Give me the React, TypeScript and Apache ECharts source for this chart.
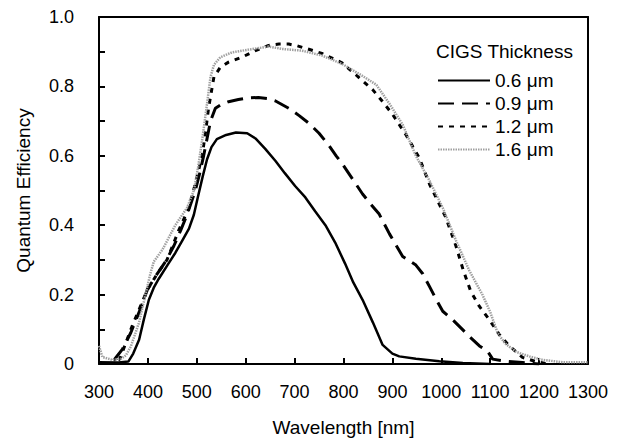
import React, { useEffect, useRef } from "react";
import * as echarts from "echarts";

const seriesNames = ["0.6 μm", "0.9 μm", "1.2 μm", "1.6 μm"];

const qe06: [number, number][] = [
  [300, 0.005], [340, 0.004], [360, 0.007], [370, 0.03], [382, 0.07], [392, 0.13], [402, 0.185],
  [412, 0.22], [422, 0.245], [440, 0.285], [456, 0.32], [470, 0.355], [484, 0.39], [494, 0.43],
  [502, 0.48], [512, 0.54], [521, 0.59], [530, 0.625], [541, 0.648], [560, 0.66], [580, 0.667],
  [603, 0.665], [620, 0.65], [640, 0.62], [661, 0.585], [680, 0.55], [701, 0.513], [722, 0.48],
  [742, 0.44], [763, 0.4], [783, 0.35], [803, 0.29], [820, 0.235], [839, 0.185], [860, 0.12],
  [880, 0.055], [900, 0.03], [914, 0.022], [948, 0.015], [996, 0.008], [1044, 0.003], [1100, 0.0],
];

const qe09: [number, number][] = [
  [330, 0.01], [348, 0.043], [365, 0.09], [385, 0.16], [399, 0.215], [419, 0.26], [436, 0.295],
  [453, 0.34], [467, 0.385], [480, 0.43], [497, 0.5], [506, 0.55], [514, 0.6], [521, 0.65],
  [528, 0.7], [538, 0.737], [550, 0.748], [565, 0.756], [585, 0.762], [606, 0.767], [626, 0.768],
  [645, 0.765], [661, 0.758], [688, 0.737], [710, 0.715], [729, 0.694], [750, 0.665], [769, 0.632],
  [785, 0.6], [800, 0.572], [820, 0.53], [839, 0.49], [856, 0.46], [873, 0.432], [894, 0.375],
  [921, 0.31], [948, 0.285], [962, 0.26], [976, 0.223], [990, 0.185], [1003, 0.152], [1023, 0.128],
  [1040, 0.104], [1057, 0.08], [1078, 0.052], [1095, 0.036], [1105, 0.014], [1132, 0.008],
  [1166, 0.004], [1200, 0.0],
];

const qe12: [number, number][] = [
  [340, 0.01], [344, 0.02], [368, 0.11], [399, 0.214], [419, 0.26], [439, 0.3], [463, 0.385],
  [484, 0.45], [497, 0.52], [511, 0.6], [518, 0.67], [524, 0.737], [535, 0.827], [548, 0.855],
  [565, 0.87], [592, 0.884], [620, 0.903], [647, 0.918], [668, 0.922], [688, 0.922], [705, 0.917],
  [722, 0.91], [756, 0.895], [797, 0.868], [820, 0.84], [836, 0.82], [860, 0.79], [880, 0.756],
  [900, 0.72], [928, 0.66], [955, 0.594], [976, 0.518], [1009, 0.423], [1030, 0.34], [1045, 0.27],
  [1060, 0.21], [1078, 0.166], [1098, 0.128], [1118, 0.086], [1139, 0.052], [1166, 0.019],
  [1193, 0.007], [1220, 0.0],
];

const qe16: [number, number][] = [
  [300, 0.052], [307, 0.02], [327, 0.012], [345, 0.015], [355, 0.025], [365, 0.05], [382, 0.12],
  [395, 0.2], [405, 0.26], [412, 0.295], [430, 0.33], [456, 0.4], [480, 0.45], [494, 0.5],
  [503, 0.57], [511, 0.646], [520, 0.74], [528, 0.827], [535, 0.862], [548, 0.884], [572, 0.898],
  [606, 0.906], [647, 0.915], [674, 0.908], [715, 0.903], [756, 0.889], [797, 0.865], [839, 0.83],
  [867, 0.805], [894, 0.75], [921, 0.69], [948, 0.6], [976, 0.528], [1003, 0.45], [1030, 0.356],
  [1057, 0.27], [1084, 0.2], [1100, 0.15], [1115, 0.09], [1130, 0.06], [1153, 0.035], [1180, 0.022],
  [1207, 0.012], [1248, 0.005], [1300, 0.005],
];

const xTicks = { min: 300, max: 1300, interval: 100 };
const yTicks = { min: 0, max: 1.0, interval: 0.2 };

const FONT = "Liberation Sans, Arial, sans-serif";

export default function App() {
  const ref = useRef<HTMLDivElement>(null);
  useEffect(() => {
    if (!ref.current) return;
    const chart = echarts.init(ref.current, null, { renderer: "svg" });
    const mkLine = (name: string, data: [number, number][], color: string, width: number, type: any) => ({
      name,
      type: "line",
      data,
      symbol: "none",
      lineStyle: { color, width, type },
      itemStyle: { color },
    });
    chart.setOption({
      animation: false,
      grid: { left: 99, right: 35, top: 17, bottom: 75 },
      xAxis: [
        {
          type: "value",
          min: xTicks.min,
          max: xTicks.max,
          interval: xTicks.interval,
          name: "Wavelength [nm]",
          nameLocation: "middle",
          nameGap: 54,
          nameTextStyle: { color: "#000", fontSize: 19, fontFamily: FONT },
          axisLine: { show: true, lineStyle: { color: "#000", width: 2 } },
          axisTick: { show: true, inside: true, length: 6, lineStyle: { color: "#000", width: 2 } },
          axisLabel: { color: "#000", fontSize: 18, fontFamily: FONT, margin: 19, formatter: (v: number) => String(v) },
          splitLine: { show: false },
        },
        {
          type: "value",
          min: xTicks.min,
          max: xTicks.max,
          position: "top",
          axisLine: { show: true, onZero: false, lineStyle: { color: "#000", width: 2 } },
          axisTick: { show: false },
          axisLabel: { show: false },
          splitLine: { show: false },
        },
      ],
      yAxis: [
        {
          type: "value",
          min: yTicks.min,
          max: yTicks.max,
          interval: yTicks.interval,
          name: "Quantum Efficiency",
          nameLocation: "middle",
          nameGap: 66,
          nameTextStyle: { color: "#000", fontSize: 19, fontFamily: FONT },
          axisLine: { show: true, lineStyle: { color: "#000", width: 2 } },
          axisTick: { show: true, inside: true, length: 6, lineStyle: { color: "#000", width: 2 } },
          minorTick: { show: true, splitNumber: 2, length: 6, lineStyle: { color: "#000", width: 2 } },
          axisLabel: {
            color: "#000",
            fontSize: 18,
            fontFamily: FONT,
            margin: 25,
            formatter: (v: number) => (v === 0 ? "0" : v.toFixed(1)),
          },
          splitLine: { show: false },
        },
        {
          type: "value",
          min: yTicks.min,
          max: yTicks.max,
          position: "right",
          axisLine: { show: true, onZero: false, lineStyle: { color: "#000", width: 2 } },
          axisTick: { show: false },
          axisLabel: { show: false },
          splitLine: { show: false },
        },
      ],
      title: {
        text: "CIGS Thickness",
        left: 436,
        top: 42,
        padding: 0,
        textStyle: { color: "#000", fontSize: 19, fontWeight: "normal", fontFamily: FONT },
      },
      legend: {
        orient: "vertical",
        left: 437,
        top: 71,
        padding: 0,
        itemWidth: 52,
        itemHeight: 14,
        itemGap: 4,
        data: seriesNames,
        itemStyle: { opacity: 0 },
        textStyle: { color: "#000", fontSize: 19, fontFamily: FONT },
      },
      series: [
        mkLine(seriesNames[0], qe06, "#000", 2.5, "solid"),
        mkLine(seriesNames[1], qe09, "#000", 3, [16, 8]),
        mkLine(seriesNames[2], qe12, "#000", 3, [5, 6]),
        mkLine(seriesNames[3], qe16, "#a0a0a0", 2.5, [1.5, 1]),
      ],
    });
    return () => chart.dispose();
  }, []);
  return (
    <div
      ref={ref}
      style={{ position: "fixed", left: 0, top: 0, width: 623, height: 442, background: "#fff" }}
    />
  );
}
